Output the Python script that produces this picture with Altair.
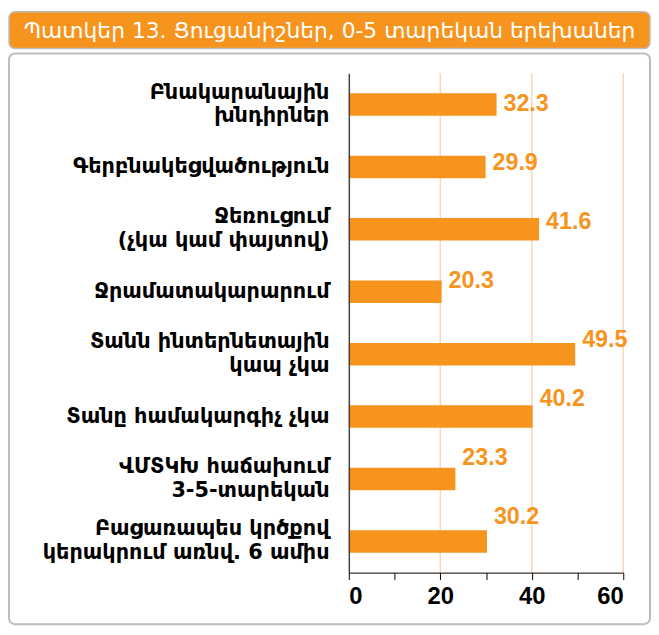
import altair as alt
import pandas as pd

title_text = "Պատկեր 13. Ցուցանիշներ, 0-5 տարեկան երեխաներ"
categories = [
    "Բնակարանային\nխնդիրներ",
    "Գերբնակեցվածություն",
    "Ջեռուցում\n(չկա կամ փայտով)",
    "Ջրամատակարարում",
    "Տանն ինտերնետային\nկապ չկա",
    "Տանը համակարգիչ չկա",
    "ՎՄՏԿԽ հաճախում\n3-5-տարեկան",
    "Բացառապես կրծքով\nկերակրում առնվ. 6 ամիս",
]
values = [32.3, 29.9, 41.6, 20.3, 49.5, 40.2, 23.3, 30.2]
grid_values = [20, 40, 60]
tick_values = [0, 10, 20, 30, 40, 50, 60]

ORANGE = "#F7941D"
W, H = 277, 504
ARM_FONT = "DejaVu Sans"

df = pd.DataFrame({"cat": categories, "val": values})
gdf = pd.DataFrame({"g": grid_values})
one = pd.DataFrame({"a": [0]})

xscale = alt.Scale(domain=[0, 60], nice=False)

box = alt.Chart(one).mark_rect(
    fill="white", stroke="#BDBDBD", strokeWidth=2, cornerRadius=6
).encode(
    x=alt.value(-343), x2=alt.value(304), y=alt.value(-20), y2=alt.value(556)
)

banner = alt.Chart(one).mark_rect(
    fill=ORANGE, stroke="#BDBDBD", strokeWidth=1.5, cornerRadius=6
).encode(
    x=alt.value(-343), x2=alt.value(304), y=alt.value(-62), y2=alt.value(-25)
)

banner_text = alt.Chart(one).mark_text(
    text=title_text, color="white", fontSize=22, font=ARM_FONT,
    align="center", baseline="middle"
).encode(x=alt.value(-19.5), y=alt.value(-43))

grid = alt.Chart(gdf).mark_rule(color="#FCD5B8", strokeWidth=1.5).encode(
    x=alt.X("g:Q", scale=xscale)
)

bars = alt.Chart(df).mark_bar(color=ORANGE).encode(
    x=alt.X(
        "val:Q", scale=xscale, title=None,
        axis=alt.Axis(
            values=tick_values,
            labelExpr="datum.value % 20 == 0 ? datum.label : ''",
            grid=False, labelFontSize=24, labelFontWeight="bold",
            labelColor="black", labelFont="Liberation Sans",
            tickColor="black", domainColor="black", tickSize=7,
            labelPadding=5, zindex=1,
        ),
    ),
    y=alt.Y(
        "cat:N", sort=categories, title=None,
        scale=alt.Scale(paddingInner=0.64, paddingOuter=0.32),
        axis=alt.Axis(
            labelExpr="split(datum.label, '\\n')",
            labelOffset={
                "condition": {"test": "indexof(datum.value, '\\n') >= 0", "value": -12},
                "value": 0,
            },
            ticks=False, domainColor="#444444", domainWidth=1.5,
            labelFontSize=21, labelFontWeight="bold", labelColor="black",
            labelFont=ARM_FONT, labelPadding=20, labelLineHeight=24,
            labelLimit=0, zindex=1,
        ),
    ),
)

labels = alt.Chart(df).mark_text(
    color=ORANGE, fontSize=23.5, fontWeight="bold", font="Liberation Sans",
    align="left", baseline="middle", dx=7
).encode(
    x=alt.X("val:Q", scale=xscale),
    y=alt.Y("cat:N", sort=categories, axis=None,
            scale=alt.Scale(type="point", range=[31, 448], padding=0)),
    text=alt.Text("val:Q", format=".1f"),
)

chart = alt.layer(box, banner, banner_text, grid, bars, labels).resolve_scale(
    y="independent"
).properties(
    width=W, height=H, padding=0
).configure_view(stroke=None)

chart.save("out.html", embed_options={"renderer": "svg", "actions": False})
